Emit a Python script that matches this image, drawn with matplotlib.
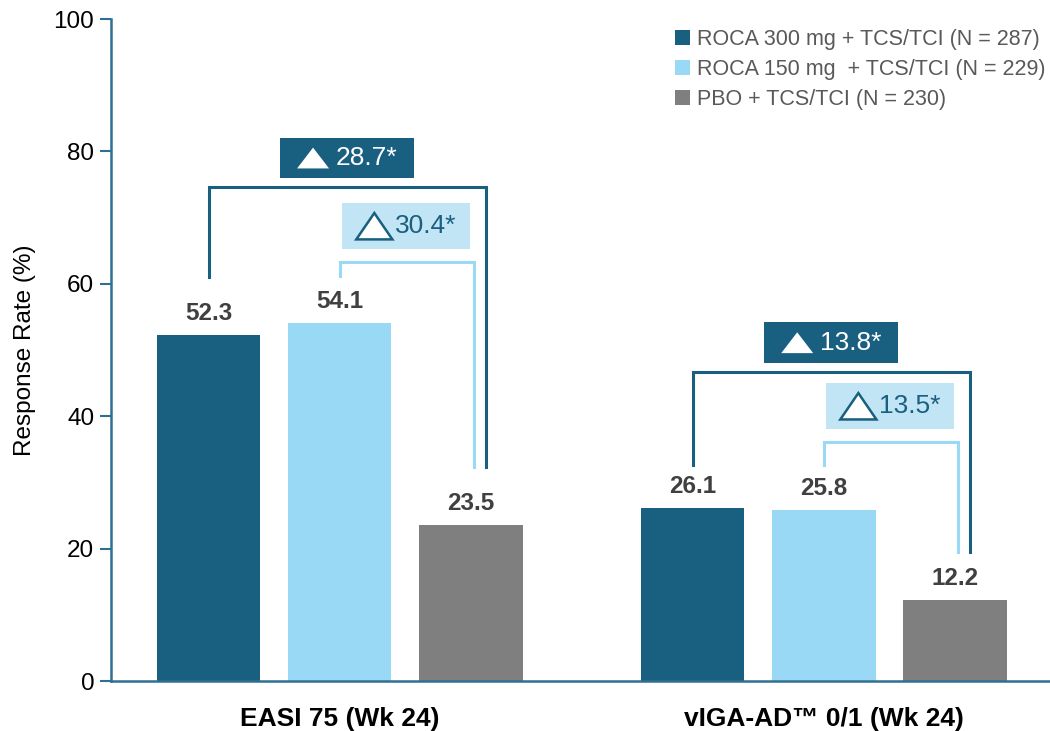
import matplotlib.pyplot as plt
import numpy as np
from matplotlib.offsetbox import AnnotationBbox, DrawingArea, HPacker, TextArea
from matplotlib.patches import Polygon

plt.rcParams['font.family'] = ['Liberation Sans', 'DejaVu Sans']

## Data
groups = ["EASI 75 (Wk 24)", "vIGA-AD\u2122 0/1 (Wk 24)"]
series = ["ROCA 300 mg + TCS/TCI (N = 287)",
          "ROCA 150 mg  + TCS/TCI (N = 229)",
          "PBO + TCS/TCI (N = 230)"]
roca300 = [52.3, 26.1]
roca150 = [54.1, 25.8]
pbo = [23.5, 12.2]
delta300 = ["28.7*", "13.8*"]
delta150 = ["30.4*", "13.5*"]

# bracket heights (top, left foot, right foot)
br300_top = [74.6, 46.7]
br300_left = [61.0, 32.6]
br150_top = [63.3, 36.1]
br150_left = [61.2, 32.6]
br_right = [32.3, 19.5]

dark = "#195f80"
light = "#9ad9f5"
gray = "#7f7f7f"
box_light = "#c2e5f5"
spine = "#2f6f93"
txt = "#404040"

fig = plt.figure(figsize=(10.5, 7.31), dpi=100)
ax = fig.add_axes([111/1050, 1-681/731, 1-111/1050, (681-19)/731])

x = np.arange(len(groups))
w = 0.213
off = 0.2707
vals = [roca300, roca150, pbo]
cols = [dark, light, gray]
for i, (v, c, lab) in enumerate(zip(vals, cols, series)):
    xs = x + (i-1)*off
    ax.bar(xs, v, w, color=c, label=lab)
    for xx, vv in zip(xs, v):
        ax.text(xx, vv+1.5, f"{vv:.1f}", ha="center", va="bottom",
                fontsize=17.5, fontweight="bold", color=txt)


def delta_box(xc, yc, label, filled):
    # triangle + number inside a coloured box
    if filled:
        tw, th = 23, 15
        da = DrawingArea(tw + 4, th + 2)
        da.add_artist(Polygon([[1, 1], [tw + 1, 1], [tw/2 + 1, th + 1]],
                              closed=True, fc="white", ec="none"))
        tcol, bg = "white", dark
    else:
        tw, th = 26, 19
        da = DrawingArea(tw + 3, th + 2)
        da.add_artist(Polygon([[1, 1], [tw + 1, 1], [tw/2 + 1, th + 1]],
                              closed=True, fc="white", ec=dark, lw=1.8))
        tcol, bg = dark, box_light
    ta = TextArea(label, textprops=dict(fontsize=19, color=tcol))
    gap = DrawingArea(3.5, 1)
    gap2 = DrawingArea(3.5, 1)
    pack = HPacker(children=[gap, da, ta, gap2], align="center", pad=0,
                   sep=2 if filled else 0)
    ab = AnnotationBbox(pack, (xc, yc), xycoords="data", frameon=True,
                        pad=0.6, box_alignment=(0.5, 0.5),
                        bboxprops=dict(boxstyle="square,pad=0.6", fc=bg,
                                       ec="none"))
    ax.add_artist(ab)


# brackets
for g in range(len(groups)):
    x0 = x[g] - off
    x1 = x[g]
    xr_dark = x[g] + off + 0.031
    xr_light = x[g] + off + 0.006
    ax.plot([x0, x0, xr_dark, xr_dark],
            [br300_left[g], br300_top[g], br300_top[g], br_right[g]],
            color=dark, lw=2.2, solid_joinstyle="miter")
    ax.plot([x1, x1, xr_light, xr_light],
            [br150_left[g], br150_top[g], br150_top[g], br_right[g]],
            color=light, lw=2.2, solid_joinstyle="miter")
    delta_box(x[g] + 0.014, br300_top[g] + 4.4, delta300[g], True)
    delta_box(x[g] + 0.136, br150_top[g] + 5.4, delta150[g], False)

ax.set_xlim(-0.473, 1.467)
ax.set_ylim(0, 100)
ax.set_yticks([0, 20, 40, 60, 80, 100])
ax.set_xticks(x)
ax.set_xticklabels(groups, fontsize=19, fontweight="bold", color="black")
ax.tick_params(axis="x", length=0, pad=19)
ax.tick_params(axis="y", length=8, width=1.5, color=spine, labelsize=17.5,
               labelcolor="black", pad=4)
for s in ["top", "right"]:
    ax.spines[s].set_visible(False)
ax.spines["left"].set_color(spine)
ax.spines["bottom"].set_color(spine)
ax.spines["left"].set_linewidth(1.8)
ax.spines["bottom"].set_linewidth(1.8)
ax.set_ylabel("Response Rate (%)", fontsize=17.5, labelpad=13)

leg = ax.legend(loc="upper right", bbox_to_anchor=(1.006, 1.0), frameon=False,
                fontsize=15.5, handlelength=0.7, handleheight=0.7,
                handletextpad=0.35, labelspacing=0.42, borderaxespad=0.05,
                labelcolor="#595959")

fig.savefig("out.png", dpi=100)
